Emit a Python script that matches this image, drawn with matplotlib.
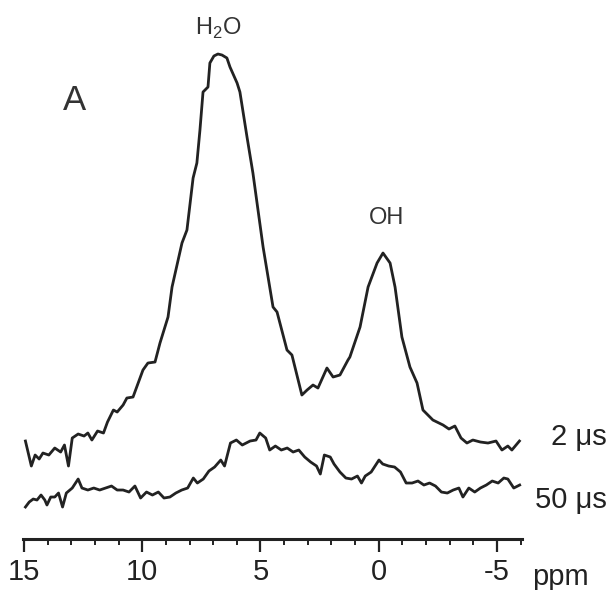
import numpy as np
import matplotlib
matplotlib.use("Agg")
import matplotlib.pyplot as plt
from matplotlib.ticker import MultipleLocator

plt.rcParams['font.family'] = ['Liberation Sans', 'DejaVu Sans']
plt.rcParams['mathtext.fontset'] = 'custom'
plt.rcParams['mathtext.rm'] = 'Liberation Sans'

# chemical shift (ppm) and intensity (a.u.)
ppm_2us = [14.94, 14.69, 14.53, 14.36, 14.20, 13.95, 13.70, 13.45, 13.29, 13.12,
           12.96, 12.71, 12.46, 12.30, 12.13, 11.89, 11.64, 11.47, 11.22, 11.06,
           10.81, 10.65, 10.39, 9.97, 9.76, 9.46, 9.25, 8.91, 8.74, 8.32,
           8.11, 7.85, 7.69, 7.56, 7.43, 7.22, 7.14, 6.97, 6.80, 6.63,
           6.42, 6.29, 5.99, 5.87, 5.57, 5.32, 4.89, 4.47, 4.30, 3.88,
           3.67, 3.25, 3.03, 2.78, 2.57, 2.19, 1.93, 1.64, 1.30, 1.22,
           0.79, 0.45, 0.07, -0.18, -0.48, -0.69, -0.98, -1.32, -1.62, -1.87,
           -2.29, -2.72, -2.97, -3.22, -3.48, -3.73, -3.98, -4.30, -4.62, -4.96,
           -5.21, -5.46, -5.63, -5.95]
int_2us = [98, 73, 84, 80, 86, 84, 91, 87, 94, 73,
           101, 105, 103, 106, 99, 108, 106, 117, 129, 127,
           134, 141, 142, 169, 176, 177, 196, 222, 252, 296,
           309, 361, 376, 409, 447, 452, 476, 483, 485, 484,
           481, 472, 456, 447, 402, 366, 292, 232, 227, 189,
           184, 144, 149, 154, 151, 171, 162, 164, 179, 182,
           212, 252, 276, 286, 276, 252, 202, 172, 156, 129,
           119, 114, 110, 113, 101, 96, 99, 97, 96, 98,
           89, 93, 89, 98]

ppm_50us = [14.94, 14.78, 14.61, 14.45, 14.28, 14.12, 14.03, 13.87, 13.70, 13.54,
            13.37, 13.21, 12.96, 12.71, 12.55, 12.30, 12.05, 11.80, 11.55, 11.30,
            11.06, 10.81, 10.56, 10.31, 10.07, 9.82, 9.57, 9.32, 9.08, 8.83,
            8.58, 8.33, 8.08, 7.84, 7.67, 7.42, 7.18, 6.94, 6.68, 6.52,
            6.27, 6.02, 5.77, 5.44, 5.19, 5.03, 4.78, 4.61, 4.37, 4.12,
            3.87, 3.62, 3.38, 3.13, 2.88, 2.63, 2.47, 2.30, 2.05, 1.89,
            1.64, 1.39, 1.15, 0.90, 0.73, 0.57, 0.32, -0.01, -0.17, -0.42,
            -0.67, -0.92, -1.16, -1.41, -1.66, -1.91, -2.15, -2.40, -2.65, -2.90,
            -3.15, -3.39, -3.56, -3.81, -4.06, -4.30, -4.55, -4.80, -5.05, -5.29,
            -5.46, -5.71, -5.96]
int_50us = [32, 37, 40, 39, 44, 39, 34, 42, 42, 46,
            32, 46, 51, 60, 51, 49, 51, 49, 51, 53,
            49, 49, 47, 53, 41, 47, 44, 47, 41, 42,
            46, 49, 51, 61, 56, 60, 68, 72, 79, 73,
            96, 99, 94, 98, 99, 106, 101, 89, 93, 89,
            91, 87, 89, 82, 77, 73, 65, 84, 82, 75,
            67, 61, 60, 63, 56, 63, 67, 79, 75, 73,
            72, 67, 56, 56, 58, 54, 56, 53, 47, 46,
            49, 51, 42, 51, 47, 51, 54, 58, 56, 61,
            60, 51, 54]

major_ticks = [15, 10, 5, 0, -5]

fig = plt.figure(figsize=(6.12, 5.9), dpi=100)
ax = fig.add_axes([0.0373, 0.0864, 0.8157, 0.9136])

ax.plot(ppm_2us, int_2us, color='#222222', lw=2.0)
ax.plot(ppm_50us, int_50us, color='#222222', lw=2.0)

ax.set_xlim(15.05, -6.06)
ax.set_ylim(0, 539)

for s in ['top', 'left', 'right']:
    ax.spines[s].set_visible(False)
ax.spines['bottom'].set_linewidth(2.2)
ax.spines['bottom'].set_color('#222222')
ax.set_yticks([])
ax.set_xticks(major_ticks)
ax.set_xticklabels([str(t) for t in major_ticks])
ax.xaxis.set_minor_locator(MultipleLocator(1))
ax.tick_params(axis='x', which='major', length=9, width=1.6, direction='out',
               labelsize=21, pad=5, color='#222222', labelcolor='#222222')
ax.tick_params(axis='x', which='minor', length=4.5, width=1.4, direction='out',
               color='#222222')

fig.text(0.869, 0.0085, 'ppm', fontsize=21, color='#222222', va='baseline', ha='left')
fig.text(0.992, 0.2458, '2 \u03bcs', fontsize=21, color='#222222', va='baseline', ha='right')
fig.text(0.992, 0.139, '50 \u03bcs', fontsize=21, color='#222222', va='baseline', ha='right')
fig.text(0.1225, 0.8136, 'A', fontsize=25, color='#333333', va='baseline', ha='center')
fig.text(0.356, 0.9407, r'H$_\mathregular{2}$O', fontsize=17, color='#333333', va='baseline', ha='center')
fig.text(0.631, 0.6203, 'OH', fontsize=17, color='#333333', va='baseline', ha='center')

plt.savefig('out.png', dpi=100)
